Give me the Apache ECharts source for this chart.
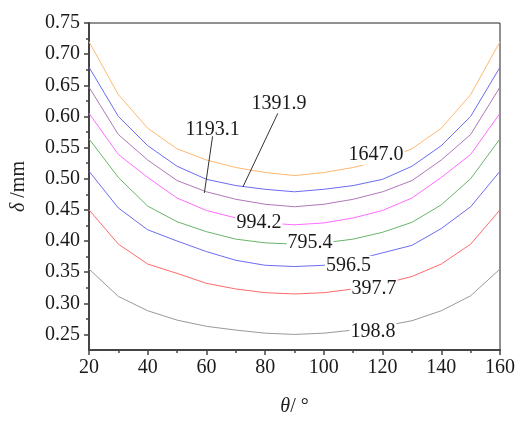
<!DOCTYPE html>
<html>
<head>
<meta charset="utf-8">
<script src="https://cdn.jsdelivr.net/npm/echarts@6/dist/echarts.min.js"></script>
<style>
  html, body { margin: 0; padding: 0; background: #fff; }
  #main { width: 522px; height: 422px; }
</style>
</head>
<body>
<div id="main"></div>
<script>
// theta (degrees)
var theta = [20, 30, 40, 50, 60, 70, 80, 90, 100, 110, 120, 130, 140, 150, 160];

// delta (mm), one curve per load level
var names = ['198.8', '397.7', '596.5', '795.4', '994.2', '1193.1', '1391.9', '1647.0'];
var d198 = [0.355, 0.311, 0.288, 0.273, 0.263, 0.257, 0.252, 0.250, 0.252, 0.257, 0.263, 0.272, 0.288, 0.312, 0.355];
var d397 = [0.450, 0.395, 0.363, 0.348, 0.332, 0.323, 0.317, 0.315, 0.317, 0.323, 0.331, 0.343, 0.363, 0.395, 0.450];
var d596 = [0.512, 0.453, 0.418, 0.400, 0.383, 0.369, 0.361, 0.359, 0.361, 0.369, 0.381, 0.393, 0.420, 0.455, 0.512];
var d795 = [0.564, 0.502, 0.456, 0.431, 0.415, 0.403, 0.397, 0.395, 0.397, 0.403, 0.414, 0.430, 0.458, 0.500, 0.564];
var d994 = [0.605, 0.539, 0.502, 0.469, 0.449, 0.437, 0.429, 0.426, 0.429, 0.437, 0.449, 0.469, 0.502, 0.539, 0.605];
var d1193 = [0.647, 0.571, 0.530, 0.497, 0.479, 0.467, 0.459, 0.455, 0.459, 0.467, 0.479, 0.497, 0.530, 0.571, 0.647];
var d1391 = [0.679, 0.600, 0.553, 0.520, 0.499, 0.489, 0.483, 0.479, 0.483, 0.489, 0.499, 0.520, 0.553, 0.600, 0.679];
var d1647 = [0.720, 0.635, 0.581, 0.548, 0.530, 0.518, 0.510, 0.505, 0.510, 0.518, 0.530, 0.548, 0.581, 0.635, 0.720];
var curves = [d198, d397, d596, d795, d994, d1193, d1391, d1647];
var colors = ['#9a9a9a', '#ff6a6a', '#6c6cf4', '#6ab46a', '#ff6cff', '#b078b8', '#6c6cf4', '#ffb870'];

// where each curve label sits [theta, delta]
var labelPos = [[116.7, 0.2547], [117.1, 0.3240], [108.4, 0.3604], [95.3, 0.3970],
                [77.9, 0.4287], [62.1, 0.5786], [84.7, 0.6207], [117.8, 0.5386]];
// leader lines for the two labels placed above the curves
var leaders = {
  5: [[62.1, 0.5681], [59.3, 0.4771]],
  6: [[84.3, 0.6049], [72.4, 0.4866]]
};

var yTicks = [0.25, 0.30, 0.35, 0.40, 0.45, 0.50, 0.55, 0.60, 0.65, 0.70, 0.75];
var yMinor = [0.275, 0.325, 0.375, 0.425, 0.475, 0.525, 0.575, 0.625, 0.675, 0.725];

var font = 'Liberation Serif';
var chart = echarts.init(document.getElementById('main'));

var series = curves.map(function (vals, i) {
  var s = {
    type: 'line',
    name: names[i],
    data: theta.map(function (t, k) { return [t, vals[k]]; }),
    showSymbol: false,
    symbol: 'none',
    lineStyle: { color: colors[i], width: 1 },
    itemStyle: { color: colors[i] },
    animation: false,
    markPoint: {
      symbol: 'circle',
      symbolSize: 0,
      silent: true,
      data: [{ coord: labelPos[i] }],
      label: {
        show: true,
        position: 'inside',
        formatter: names[i],
        color: '#1a1a1a',
        fontFamily: font,
        fontSize: 20,
        backgroundColor: leaders[i] ? 'transparent' : '#fff',
        padding: [0, 1]
      }
    }
  };
  if (leaders[i]) {
    s.markLine = {
      silent: true,
      symbol: 'none',
      label: { show: false },
      lineStyle: { color: '#333', width: 1, type: 'solid' },
      data: [[{ coord: leaders[i][0] }, { coord: leaders[i][1] }]]
    };
  }
  return s;
});

var option = {
  backgroundColor: '#fff',
  animation: false,
  grid: {
    left: 89, right: 22, top: 23, bottom: 66,
    show: true, borderColor: '#222', borderWidth: 1
  },
  xAxis: {
    type: 'value',
    min: 20, max: 160, interval: 20,
    name: '{i|θ}{n|/ °}',
    nameLocation: 'middle',
    nameGap: 47,
    nameTextStyle: {
      rich: {
        i: { fontFamily: font, fontStyle: 'italic', fontSize: 20, color: '#222' },
        n: { fontFamily: font, fontSize: 20, color: '#222' }
      }
    },
    axisLine: { lineStyle: { color: '#444', width: 2 } },
    axisTick: { length: 5, lineStyle: { color: '#444', width: 1.5 } },
    minorTick: { show: true, splitNumber: 2, length: 3, lineStyle: { color: '#444', width: 1.5 } },
    axisLabel: { fontFamily: font, fontSize: 20, color: '#1a1a1a', margin: 8 },
    splitLine: { show: false }
  },
  yAxis: [{
    type: 'value',
    min: 0.225, max: 0.75,
    name: '{i|δ}{n| /mm}',
    nameLocation: 'middle',
    nameGap: 60,
    nameTextStyle: {
      rich: {
        i: { fontFamily: font, fontStyle: 'italic', fontSize: 20, color: '#222' },
        n: { fontFamily: font, fontSize: 20, color: '#222' }
      }
    },
    axisLine: { show: true, lineStyle: { color: '#444', width: 2 } },
    axisTick: { show: true, customValues: yTicks, length: 5, lineStyle: { color: '#444', width: 1.5 } },
    axisLabel: {
      customValues: yTicks, fontFamily: font, fontSize: 20, color: '#1a1a1a', margin: 9,
      formatter: function (v) { return v.toFixed(2); }
    },
    splitLine: { show: false }
  }, {
    type: 'value',
    position: 'left',
    min: 0.225, max: 0.75,
    axisLine: { show: false },
    axisTick: { show: true, customValues: yMinor, length: 3, lineStyle: { color: '#444', width: 1.5 } },
    axisLabel: { show: false },
    splitLine: { show: false }
  }],
  series: series
};

chart.setOption(option);
</script>
</body>
</html>
